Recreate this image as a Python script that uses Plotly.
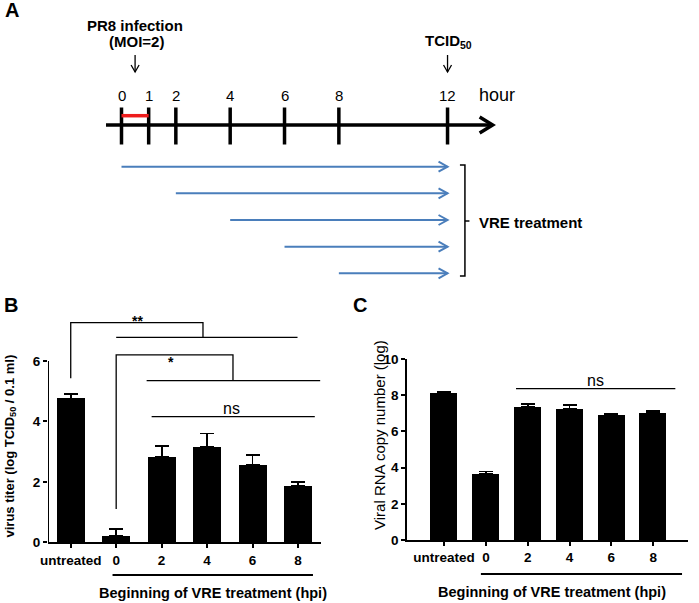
import plotly.graph_objects as go

W, H = 699, 603

# ---------------- data ----------------
# Panel A (timeline, hours)
timeline_hours = [0, 1, 2, 4, 6, 8, 12]
timeline_labels = ["0", "1", "2", "4", "6", "8", "12"]
infection_window = [0, 1]
infection_hour = 0.5
harvest_hour = 12
treatment_starts = [0, 2, 4, 6, 8]
treatment_end = 12

# Panel B (virus titer)
categories = ["untreated", "0", "2", "4", "6", "8"]
titer_mean = [4.76, 0.21, 2.81, 3.15, 2.55, 1.87]
titer_err = [0.14, 0.24, 0.38, 0.45, 0.35, 0.13]

# Panel C (viral RNA copy number)
rna_mean = [8.14, 3.66, 7.37, 7.24, 6.91, 7.02]
rna_err = [0.07, 0.13, 0.14, 0.22, 0.08, 0.11]

FONT = "Liberation Sans, Arial, Helvetica, sans-serif"
BLUE = "#4a7ebb"


def px(x, y):
    return x / W, 1 - y / H


fig = go.Figure()

# ---------------- Panel A: diagram axes (x in hours, y in px) -------------
PX_PER_H = 27.17
X0 = 121.5


def dh(p):
    return p / PX_PER_H


shapes = []
annos = []

# main time axis
y_axis_a = 125
t_start, t_tip = -0.57, 13.66
shapes.append(dict(type="line", xref="x", yref="y", x0=t_start, x1=t_tip,
                   y0=y_axis_a, y1=y_axis_a, line=dict(color="black", width=3.5)))
shapes.append(dict(type="path", xref="x", yref="y",
                   path=f"M {t_tip - dh(13)},{y_axis_a - 8} L {t_tip},{y_axis_a} L {t_tip - dh(13)},{y_axis_a + 8}",
                   line=dict(color="black", width=3.5)))
for h, lab in zip(timeline_hours, timeline_labels):
    shapes.append(dict(type="line", xref="x", yref="y", x0=h, x1=h, y0=107.5, y1=144.5,
                       line=dict(color="black", width=3.5)))
    annos.append(dict(xref="x", yref="y", x=h, y=95, text=lab, showarrow=False,
                      font=dict(size=15, color="black", family=FONT), xanchor="center", yanchor="middle"))
annos.append(dict(xref="x", yref="y", x=13.08, y=95, text="hour", showarrow=False,
                  font=dict(size=18, color="black", family=FONT), xanchor="left", yanchor="middle"))
# infection window (red)
shapes.append(dict(type="line", xref="x", yref="y", x0=infection_window[0], x1=infection_window[1],
                   y0=115.7, y1=115.7, line=dict(color="#ee1c1c", width=3.5)))

# down arrows
for h in [infection_hour, harvest_hour]:
    shapes.append(dict(type="line", xref="x", yref="y", x0=h, x1=h, y0=55, y1=72,
                       line=dict(color="black", width=1.3)))
    shapes.append(dict(type="path", xref="x", yref="y",
                       path=f"M {h - dh(4)},{65} L {h},{72} L {h + dh(4)},{65}",
                       line=dict(color="black", width=1.3)))
annos.append(dict(xref="x", yref="y", x=infection_hour, y=25, text="<b>PR8 infection</b>", showarrow=False,
                  font=dict(size=15, color="black", family=FONT), xanchor="center", yanchor="middle"))
annos.append(dict(xref="x", yref="y", x=infection_hour + 0.07, y=41, text="<b>(MOI=2)</b>", showarrow=False,
                  font=dict(size=15, color="black", family=FONT), xanchor="center", yanchor="middle"))
annos.append(dict(xref="x", yref="y", x=harvest_hour + 0.05, y=41, text="<b>TCID<sub>50</sub></b>", showarrow=False,
                  font=dict(size=15, color="black", family=FONT), xanchor="center", yanchor="middle"))

# blue treatment arrows
for i, s in enumerate(treatment_starts):
    yy = 166.7 + i * 26.65
    shapes.append(dict(type="line", xref="x", yref="y", x0=s, x1=treatment_end, y0=yy, y1=yy,
                       line=dict(color=BLUE, width=2)))
    shapes.append(dict(type="path", xref="x", yref="y",
                       path=f"M {treatment_end - dh(9)},{yy - 5} L {treatment_end},{yy} L {treatment_end - dh(9)},{yy + 5}",
                       line=dict(color=BLUE, width=2)))
# bracket
bx = 12.64
shapes.append(dict(type="path", xref="x", yref="y",
                   path=f"M {bx - dh(5)},165 L {bx},165 L {bx},276 L {bx - dh(5)},276",
                   line=dict(color="black", width=1.5)))
shapes.append(dict(type="line", xref="x", yref="y", x0=bx, x1=bx + dh(4.5), y0=221, y1=221,
                   line=dict(color="black", width=1.5)))
annos.append(dict(xref="x", yref="y", x=13.07, y=222, text="<b>VRE treatment</b>", showarrow=False,
                  font=dict(size=15, color="black", family=FONT), xanchor="left", yanchor="middle"))

# ---------------- Panel B ----------------
fig.add_trace(go.Bar(x=categories, y=titer_mean, xaxis="x2", yaxis="y2", width=0.615,
                     marker=dict(color="black", line=dict(width=0)),
                     error_y=dict(type="data", symmetric=False, array=titer_err,
                                  arrayminus=[0] * len(titer_err), color="black", thickness=1.8, width=7),
                     showlegend=False))
# y-axis line only up to 6
shapes.append(dict(type="line", xref="x2", yref="y2", x0=-0.5, x1=-0.5, y0=0, y1=6,
                   line=dict(color="black", width=2)))
BL = dict(color="black", width=1.3)
shapes.append(dict(type="path", xref="x2", yref="y2", path="M 0,5.43 L 0,7.27 L 2.91,7.27 L 2.91,6.78", line=BL))
shapes.append(dict(type="line", xref="x2", yref="y2", x0=1.0, x1=4.99, y0=6.78, y1=6.78, line=BL))
shapes.append(dict(type="path", xref="x2", yref="y2", path="M 1,1.10 L 1,6.20 L 3.57,6.20 L 3.57,5.35", line=BL))
shapes.append(dict(type="line", xref="x2", yref="y2", x0=1.67, x1=5.49, y0=5.35, y1=5.35, line=BL))
shapes.append(dict(type="line", xref="x2", yref="y2", x0=1.78, x1=5.37, y0=4.16, y1=4.16, line=BL))
annos.append(dict(xref="x2", yref="y2", x=1.48, y=7.32, text="<b>**</b>", showarrow=False,
                  font=dict(size=14, color="black", family=FONT), xanchor="center", yanchor="middle"))
annos.append(dict(xref="x2", yref="y2", x=2.2, y=5.95, text="<b>*</b>", showarrow=False,
                  font=dict(size=14, color="black", family=FONT), xanchor="center", yanchor="middle"))
annos.append(dict(xref="x2", yref="y2", x=3.54, y=4.44, text="ns", showarrow=False,
                  font=dict(size=16, color="black", family=FONT), xanchor="center", yanchor="middle"))
# group line + label
shapes.append(dict(type="line", xref="x2", yref="paper", x0=0.92, x1=5.33, y0=1 - 575 / H, y1=1 - 575 / H,
                   line=dict(color="black", width=1.8)))
annos.append(dict(xref="x2", yref="paper", x=3.13, y=1 - 593 / H, text="<b>Beginning of VRE treatment (hpi)</b>",
                  showarrow=False, font=dict(size=14.5, color="black", family=FONT), xanchor="center", yanchor="middle"))

# ---------------- Panel C ----------------
fig.add_trace(go.Bar(x=categories, y=rna_mean, xaxis="x3", yaxis="y3", width=0.646,
                     marker=dict(color="black", line=dict(width=0)),
                     error_y=dict(type="data", symmetric=False, array=rna_err,
                                  arrayminus=[0] * len(rna_err), color="black", thickness=1.8, width=7),
                     showlegend=False))
shapes.append(dict(type="line", xref="x3", yref="y3", x0=1.72, x1=5.53, y0=8.36, y1=8.36, line=BL))
annos.append(dict(xref="x3", yref="y3", x=3.61, y=8.84, text="ns", showarrow=False,
                  font=dict(size=16, color="black", family=FONT), xanchor="center", yanchor="middle"))
shapes.append(dict(type="line", xref="x3", yref="paper", x0=0.88, x1=5.69, y0=1 - 574 / H, y1=1 - 574 / H,
                   line=dict(color="black", width=1.8)))
annos.append(dict(xref="x3", yref="paper", x=2.58, y=1 - 592 / H, text="<b>Beginning of VRE treatment (hpi)</b>",
                  showarrow=False, font=dict(size=14.5, color="black", family=FONT), xanchor="center", yanchor="middle"))

# axis titles & panel letters
xb, yb = px(10, 446.5)
annos.append(dict(xref="paper", yref="paper", x=xb, y=yb, text="<b>virus titer (log TCID<sub>50</sub> / 0.1 ml)</b>",
                  textangle=-90, showarrow=False, font=dict(size=13, color="black", family=FONT),
                  xanchor="center", yanchor="middle"))
xc, yc = px(379.5, 435.5)
annos.append(dict(xref="paper", yref="paper", x=xc, y=yc, text="Viral RNA copy number (log)",
                  textangle=-90, showarrow=False, font=dict(size=15, color="black", family=FONT),
                  xanchor="center", yanchor="middle"))
for lab, (lx, ly) in zip(["A", "B", "C"], [(11.7, 10), (11, 305), (360, 305)]):
    ax_, ay_ = px(lx, ly)
    annos.append(dict(xref="paper", yref="paper", x=ax_, y=ay_, text=f"<b>{lab}</b>", showarrow=False,
                      font=dict(size=20, color="black", family=FONT), xanchor="center", yanchor="middle"))

tickfont = dict(size=13.5, color="black", family=FONT, weight="bold")

fig.update_layout(
    width=W, height=H, autosize=False,
    margin=dict(l=0, r=0, t=0, b=0, pad=0, autoexpand=False),
    paper_bgcolor="white", plot_bgcolor="white",
    showlegend=False,
    bargap=0,
    xaxis=dict(domain=[0, 1], range=[-X0 / PX_PER_H, (W - X0) / PX_PER_H], visible=False, fixedrange=True),
    yaxis=dict(domain=[0, 1], range=[H, 0], visible=False, fixedrange=True),
    xaxis2=dict(domain=[48 / W, 320.7 / W], anchor="y2", type="category", range=[-0.5, 5.5],
                showline=True, linecolor="black", linewidth=2, ticks="outside", ticklen=4,
                tickwidth=1.5, tickcolor="black", tickfont=tickfont, showgrid=False, zeroline=False),
    yaxis2=dict(domain=[1 - 542.3 / H, 1 - 310 / H], anchor="x2", range=[0, (542.3 - 310) / 30.22],
                tickvals=[0, 2, 4, 6], showline=False, ticks="outside", ticklen=4, tickwidth=1.5,
                tickcolor="black", tickfont=tickfont, showgrid=False, zeroline=False),
    xaxis3=dict(domain=[407.3 / W, 688.3 / W], anchor="y3", type="category", range=[-0.88, 5.84],
                showline=True, linecolor="black", linewidth=2, ticks="outside", ticklen=4,
                tickwidth=1.5, tickcolor="black", tickfont=tickfont, showgrid=False, zeroline=False),
    yaxis3=dict(domain=[1 - 540 / H, 1 - 359 / H], anchor="x3", range=[0, 10],
                tickvals=[0, 2, 4, 6, 8, 10], showline=True, linecolor="black", linewidth=2,
                ticks="outside", ticklen=4, tickwidth=1.5, tickcolor="black", tickfont=tickfont,
                showgrid=False, zeroline=False),
    shapes=shapes,
    annotations=annos,
)

fig.write_html("out.html", config={"displayModeBar": False},
               post_script="document.body.style.margin='0px';document.body.style.overflow='hidden';")
